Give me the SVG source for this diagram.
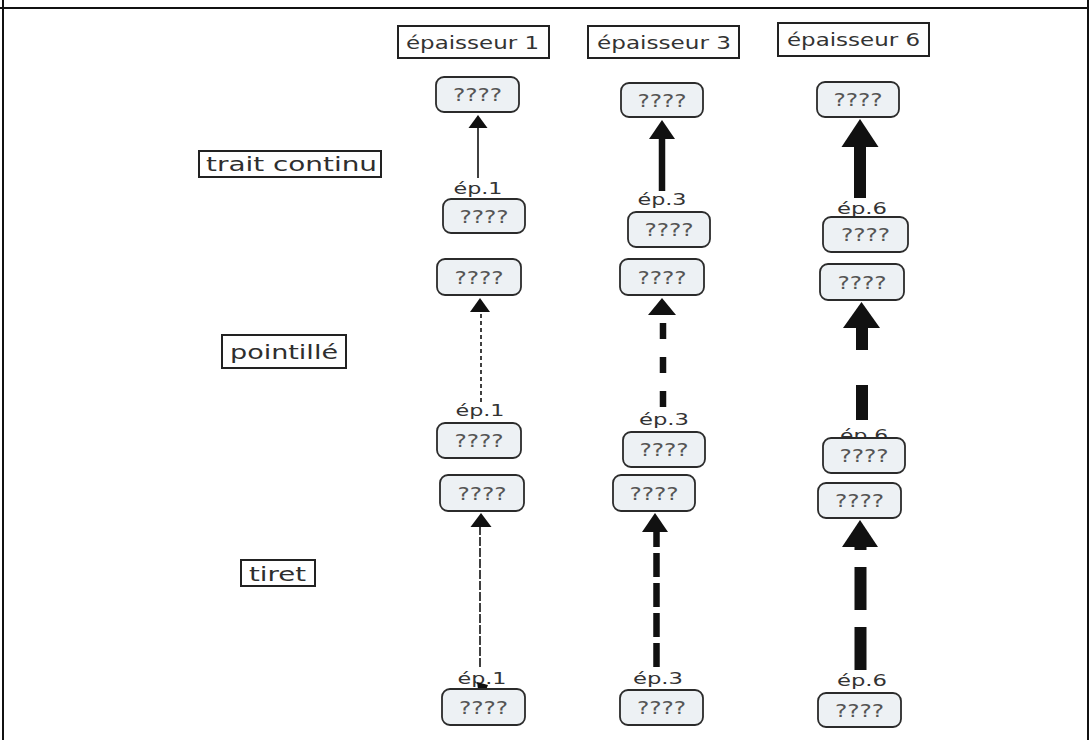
<svg xmlns="http://www.w3.org/2000/svg" width="1089" height="740" viewBox="0 0 1089 740">
<style>
  .frame{stroke:#111;stroke-width:2;fill:none}
  .lbl{fill:#fff;stroke:#222;stroke-width:2}
  .lbltxt{font-family:"DejaVu Sans","Liberation Sans",sans-serif;font-size:20px;fill:#2e2e2e}
  .hdrtxt{font-family:"DejaVu Sans","Liberation Sans",sans-serif;font-size:18px;fill:#333}
  .node rect{fill:#edf1f4;stroke:#2b2b2b;stroke-width:1.8}
  .node text{font-family:"DejaVu Sans","Liberation Sans",sans-serif;font-size:17px;fill:#555;text-anchor:middle}
  .ep{font-family:"DejaVu Sans","Liberation Sans",sans-serif;font-size:16px;fill:#333;text-anchor:middle}
  .s1{stroke:#111;stroke-width:1.6;fill:none}
  .s3{stroke:#111;stroke-width:6.5;fill:none}
  .s6{stroke:#111;stroke-width:12;fill:none}
  .head{fill:#111}
</style>
<rect width="1089" height="740" fill="#fff"/>
<g id="frame">
  <line class="frame" x1="3" y1="0" x2="3" y2="740"/>
  <line class="frame" x1="1088" y1="0" x2="1088" y2="740"/>
  <line class="frame" x1="0" y1="8" x2="1089" y2="8"/>
</g>
<g id="header-ep1"><rect class="lbl" x="398" y="26" width="151" height="32"/><text class="hdrtxt" x="406" y="49" textLength="133" lengthAdjust="spacingAndGlyphs">épaisseur 1</text></g>
<g id="header-ep3"><rect class="lbl" x="588" y="26" width="151" height="32"/><text class="hdrtxt" x="597" y="49" textLength="134" lengthAdjust="spacingAndGlyphs">épaisseur 3</text></g>
<g id="header-ep6"><rect class="lbl" x="778" y="23" width="151" height="33"/><text class="hdrtxt" x="787" y="46" textLength="133" lengthAdjust="spacingAndGlyphs">épaisseur 6</text></g>
<g id="row-continu"><rect class="lbl" x="199" y="151" width="182" height="26"/><text class="lbltxt" x="206" y="171" textLength="171" lengthAdjust="spacingAndGlyphs">trait continu</text></g>
<g id="row-pointille"><rect class="lbl" x="222" y="335" width="124" height="33"/><text class="lbltxt" x="230" y="359" textLength="108" lengthAdjust="spacingAndGlyphs">pointillé</text></g>
<g id="row-tiret"><rect class="lbl" x="241" y="560" width="74" height="26"/><text class="lbltxt" x="249" y="581" textLength="57" lengthAdjust="spacingAndGlyphs">tiret</text></g>

<g id="labels">
  <text class="ep" x="478" y="194" textLength="49" lengthAdjust="spacingAndGlyphs">ép.1</text>
  <text class="ep" x="662" y="205" textLength="49" lengthAdjust="spacingAndGlyphs">ép.3</text>
  <text class="ep" x="862" y="214" textLength="50" lengthAdjust="spacingAndGlyphs">ép.6</text>
  <text class="ep" x="480" y="416" textLength="49" lengthAdjust="spacingAndGlyphs">ép.1</text>
  <text class="ep" x="664" y="425" textLength="50" lengthAdjust="spacingAndGlyphs">ép.3</text>
  <text class="ep" x="864" y="441" textLength="48" lengthAdjust="spacingAndGlyphs">ép.6</text>
  <text class="ep" x="482" y="684" textLength="49" lengthAdjust="spacingAndGlyphs">ép.1</text>
  <text class="ep" x="658" y="684" textLength="50" lengthAdjust="spacingAndGlyphs">ép.3</text>
  <text class="ep" x="862" y="686" textLength="50" lengthAdjust="spacingAndGlyphs">ép.6</text>
</g>

<g id="connectors">
  <line class="s1" x1="478" y1="178" x2="478" y2="127"/>
  <polygon class="head" points="478,115 468.5,128 487.5,128"/>
  <line class="s3" x1="662" y1="191" x2="662" y2="138"/>
  <polygon class="head" points="662,120 649,139 675,139"/>
  <line class="s6" x1="860" y1="198" x2="860" y2="146"/>
  <polygon class="head" points="860,119 841.5,147 878.5,147"/>
  <line class="s1" x1="481" y1="402" x2="481" y2="312" stroke-dasharray="4 3"/>
  <polygon class="head" points="480,298 470,312 490,312"/>
  <line class="s3" x1="663" y1="407" x2="663" y2="315" stroke-dasharray="16 18"/>
  <polygon class="head" points="662,298 648,315 676,315"/>
  <line class="s6" x1="862" y1="420" x2="862" y2="328" stroke-dasharray="35 35"/>
  <polygon class="head" points="861.5,302 843,328 880,328"/>
  <line class="s1" x1="480" y1="667" x2="480" y2="527" stroke-dasharray="9 2"/>
  <polygon class="head" points="481,513 470.5,527 491.5,527"/>
  <polygon class="head" points="477,682 488,685 486,690 478,689"/>
  <line class="s3" x1="656.5" y1="667" x2="656.5" y2="532" stroke-dasharray="24 6"/>
  <polygon class="head" points="655,513 642,532 668,532"/>
  <line class="s6" x1="860.5" y1="670" x2="860.5" y2="547" stroke-dasharray="43 17"/>
  <polygon class="head" points="860,520 842,547 878,547"/>
</g>

<g id="n-c1-r1-top" class="node"><rect x="436" y="77" width="83" height="35" rx="8"/><text x="477.5" y="101" textLength="49" lengthAdjust="spacingAndGlyphs">????</text></g>
<g id="n-c1-r1-bot" class="node"><rect x="443" y="199" width="82" height="34" rx="8"/><text x="484" y="222.5" textLength="49" lengthAdjust="spacingAndGlyphs">????</text></g>
<g id="n-c2-r1-top" class="node"><rect x="621" y="83" width="82" height="34" rx="8"/><text x="662" y="106.5" textLength="49" lengthAdjust="spacingAndGlyphs">????</text></g>
<g id="n-c2-r1-bot" class="node"><rect x="628" y="212" width="82" height="35" rx="8"/><text x="669" y="236" textLength="49" lengthAdjust="spacingAndGlyphs">????</text></g>
<g id="n-c3-r1-top" class="node"><rect x="817" y="82" width="82" height="35" rx="8"/><text x="858" y="106" textLength="49" lengthAdjust="spacingAndGlyphs">????</text></g>
<g id="n-c3-r1-bot" class="node"><rect x="823" y="217" width="85" height="35" rx="8"/><text x="865.5" y="241" textLength="49" lengthAdjust="spacingAndGlyphs">????</text></g>

<g id="n-c1-r2-top" class="node"><rect x="437" y="259" width="84" height="36" rx="8"/><text x="479" y="283.5" textLength="49" lengthAdjust="spacingAndGlyphs">????</text></g>
<g id="n-c1-r2-bot" class="node"><rect x="437" y="423" width="84" height="35" rx="8"/><text x="479" y="447" textLength="49" lengthAdjust="spacingAndGlyphs">????</text></g>
<g id="n-c2-r2-top" class="node"><rect x="620" y="259" width="84" height="36" rx="8"/><text x="662" y="283.5" textLength="49" lengthAdjust="spacingAndGlyphs">????</text></g>
<g id="n-c2-r2-bot" class="node"><rect x="623" y="432" width="82" height="35" rx="8"/><text x="664" y="456" textLength="49" lengthAdjust="spacingAndGlyphs">????</text></g>
<g id="n-c3-r2-top" class="node"><rect x="820" y="264" width="84" height="36" rx="8"/><text x="862" y="288.5" textLength="49" lengthAdjust="spacingAndGlyphs">????</text></g>
<g id="n-c3-r2-bot" class="node"><rect x="823" y="438" width="82" height="35" rx="8"/><text x="864" y="462" textLength="49" lengthAdjust="spacingAndGlyphs">????</text></g>

<g id="n-c1-r3-top" class="node"><rect x="440" y="475" width="84" height="36" rx="8"/><text x="482" y="499.5" textLength="49" lengthAdjust="spacingAndGlyphs">????</text></g>
<g id="n-c1-r3-bot" class="node"><rect x="442" y="689" width="83" height="36" rx="8"/><text x="483.5" y="713.5" textLength="49" lengthAdjust="spacingAndGlyphs">????</text></g>
<g id="n-c2-r3-top" class="node"><rect x="613" y="475" width="82" height="36" rx="8"/><text x="654" y="499.5" textLength="49" lengthAdjust="spacingAndGlyphs">????</text></g>
<g id="n-c2-r3-bot" class="node"><rect x="620" y="690" width="83" height="35" rx="8"/><text x="661.5" y="714" textLength="49" lengthAdjust="spacingAndGlyphs">????</text></g>
<g id="n-c3-r3-top" class="node"><rect x="818" y="483" width="83" height="35" rx="8"/><text x="859.5" y="507" textLength="49" lengthAdjust="spacingAndGlyphs">????</text></g>
<g id="n-c3-r3-bot" class="node"><rect x="818" y="693" width="83" height="34" rx="8"/><text x="859.5" y="716.5" textLength="49" lengthAdjust="spacingAndGlyphs">????</text></g>
</svg>
